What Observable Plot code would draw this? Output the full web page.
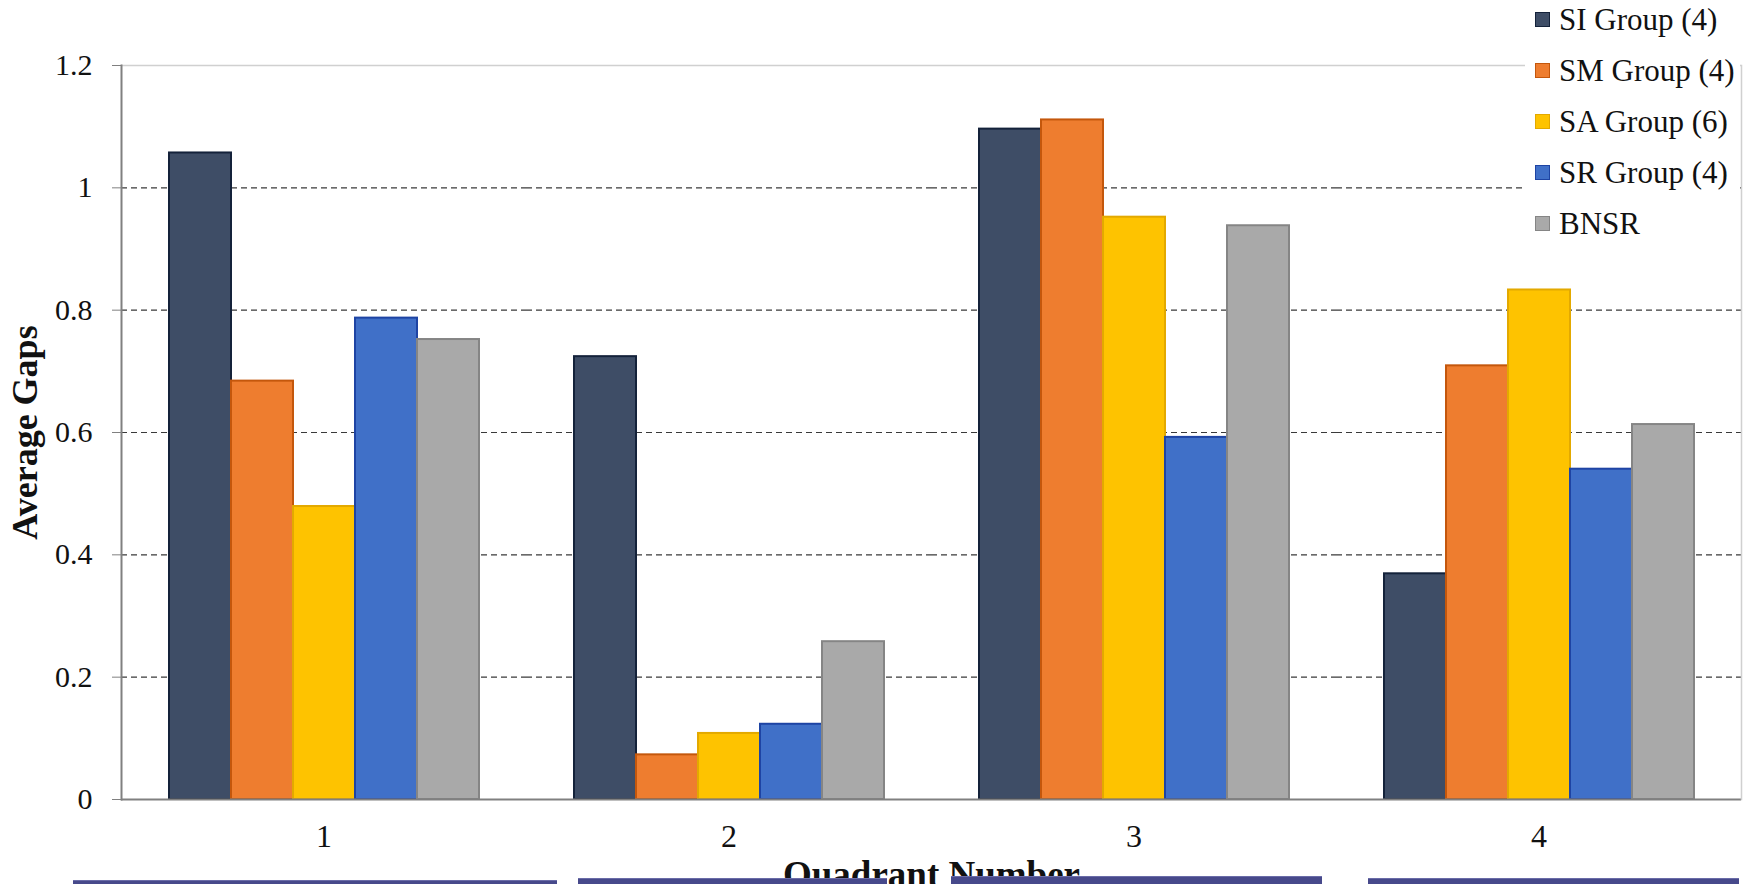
<!DOCTYPE html>
<html>
<head>
<meta charset="utf-8">
<script src="https://cdn.jsdelivr.net/npm/d3@7"></script>
<script src="https://cdn.jsdelivr.net/npm/@observablehq/plot@0.6"></script>
<style>
  html, body { margin: 0; padding: 0; background: #fff; }
  #wrap { position: relative; width: 1755px; height: 884px; overflow: hidden; background: #fff; }
  #wrap svg text { font-family: "Liberation Serif", "Times New Roman", serif; }
  #legend { position: absolute; left: 1525px; top: 0; width: 215px; height: 250px; background: #fff;
            font-family: "Liberation Serif", "Times New Roman", serif; font-size: 31px; color: #111; }
  .item { position: absolute; left: 10px; height: 51px; display: flex; align-items: center; white-space: nowrap; }
  .sw { width: 13px; height: 13px; margin-right: 9px; border: 1px solid; box-sizing: content-box; }
  .deco { position: absolute; height: 10px; background: #47498b; border-top: 1px solid #6a6ca8; }
</style>
</head>
<body>
<div id="wrap"></div>
<script>
// ---- data ----
const quadrants = ["1", "2", "3", "4"];
const series = ["SI Group (4)", "SM Group (4)", "SA Group (6)", "SR Group (4)", "BNSR"];
const siValues   = [1.057, 0.724, 1.096, 0.369];
const smValues   = [0.684, 0.073, 1.111, 0.709];
const saValues   = [0.479, 0.108, 0.952, 0.833];
const srValues   = [0.787, 0.123, 0.592, 0.540];
const bnsrValues = [0.752, 0.258, 0.938, 0.613];
const yTicks = [0, 0.2, 0.4, 0.6, 0.8, 1, 1.2];
const gridTicks = [0.2, 0.4, 0.6, 0.8, 1];
const fills = ["#3e4d66", "#ee7d2f", "#fec300", "#4070c8", "#a9a9a9"];
const edges = ["#14223a", "#c4570c", "#e3a900", "#1e44a4", "#858585"];

const valuesBySeries = [siValues, smValues, saValues, srValues, bnsrValues];
const rows = quadrants.flatMap((q, i) => series.map((s, j) => ({
  quadrant: q, series: s, value: valuesBySeries[j][i], fill: fills[j], edge: edges[j]
})));

const serif = "'Liberation Serif', 'Times New Roman', serif";

const chart = Plot.plot({
  width: 1755,
  height: 884,
  marginLeft: 120,
  marginRight: 13,
  marginTop: 65,
  marginBottom: 85,
  style: { fontFamily: serif, background: "white", overflow: "visible", color: "#111" },
  fx: { domain: quadrants, padding: 0 },
  x: { domain: series, paddingInner: 0, paddingOuter: 0.747, axis: null },
  y: { domain: [0, 1.2] },
  color: { type: "identity" },
  marks: [
    Plot.gridY(gridTicks, { stroke: "#3a3a3a", strokeOpacity: 1, strokeWidth: 1.2, strokeDasharray: "6,4" }),
    Plot.ruleY([1.2], { stroke: "#d0d0d0", strokeWidth: 1.5 }),
    Plot.barY(rows, { fx: "quadrant", x: "series", y: "value", fill: "fill", stroke: "edge", strokeWidth: 2 }),
    Plot.ruleY([0], { stroke: "#808080", strokeWidth: 2 }),
    Plot.frame({ anchor: "left", fx: "1", stroke: "#808080", strokeWidth: 2 }),
    Plot.frame({ anchor: "right", fx: "4", stroke: "#d0d0d0", strokeWidth: 1.5 }),
    Plot.axisY({ ticks: yTicks, tickFormat: String, tickSize: 9, tickPadding: 20, fontSize: 30, stroke: "#808080", label: null }),
    Plot.axisY({ ticks: [], label: "Average Gaps", labelArrow: "none", labelAnchor: "center", labelOffset: 110, fontSize: 36, fontWeight: "bold" }),
    Plot.axisFx({ anchor: "bottom", tickSize: 0, tickPadding: 25, fontSize: 32, label: null }),
    Plot.axisFx({ anchor: "bottom", ticks: [], label: "Quadrant Number", labelArrow: "none", labelAnchor: "center", labelOffset: 87, fontSize: 37, fontWeight: "bold" })
  ]
});

const wrap = document.getElementById("wrap");
wrap.appendChild(chart);

// legend (overlapping top-right like the original)
const legend = document.createElement("div");
legend.id = "legend";
series.forEach((s, j) => {
  const item = document.createElement("div");
  item.className = "item";
  item.style.top = (j * 51 - 6) + "px";
  const sw = document.createElement("span");
  sw.className = "sw";
  sw.style.background = fills[j];
  sw.style.borderColor = edges[j];
  item.appendChild(sw);
  item.appendChild(document.createTextNode(s));
  legend.appendChild(item);
});
wrap.appendChild(legend);

// decorative strips of the surrounding page cut at the bottom edge
[[73, 880, 484], [578, 878, 309], [951, 876, 371], [1368, 878, 371]].forEach(([l, t, w]) => {
  const d = document.createElement("div");
  d.className = "deco";
  d.style.left = l + "px"; d.style.top = t + "px"; d.style.width = w + "px";
  wrap.appendChild(d);
});
</script>
</body>
</html>
